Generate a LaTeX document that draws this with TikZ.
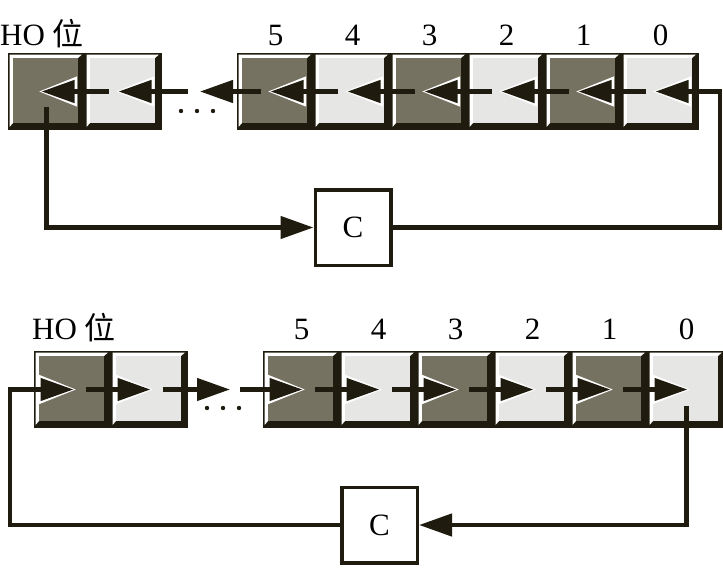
\documentclass[tikz,border=0pt]{standalone}
\usepackage{fontspec}
\setmainfont{Liberation Serif}
\newfontfamily\cjk{Noto Sans CJK SC}
\usetikzlibrary{arrows.meta,positioning}

\definecolor{darkface}{HTML}{767261}
\definecolor{lightface}{HTML}{E6E6E4}
\definecolor{edgec}{HTML}{1F1C0F}

\newcommand{\bigtext}{\fontsize{31}{37}\selectfont}

% one register cell: name, left x, top y, face colour
\newcommand{\regcell}[4]{%
  \fill[edgec] (#2,#3) rectangle ++(77,77);
  \fill[white] (#2+1.5,#3+1.5) -- (#2+74,#3+1.5) -- (#2+70,#3+5) -- (#2+5,#3+5) -- (#2+5,#3+70) -- (#2+1.5,#3+74) -- cycle;
  \fill[#4] (#2+5,#3+5) rectangle (#2+70,#3+70);
  \coordinate (#1) at (#2+38.5,#3+38.5);
}

\tikzset{
  bitarrow/.style={line width=4.5pt, draw=edgec, -{Triangle[length=33pt,width=22pt]},
    preaction={draw=white, line width=4.5pt, shorten >=-2.5pt, -{Triangle[length=38pt,width=29pt]}}},
  loopline/.style={line width=4.5pt, draw=edgec},
  looparrow/.style={loopline, -{Triangle[length=33pt,width=22pt]}},
  cbox/.style={draw=edgec, line width=3.5pt, minimum width=75.5pt, minimum height=75.5pt, inner sep=0pt, font=\bigtext},
  lbl/.style={font=\bigtext, inner sep=0pt},
}

\begin{document}
\begin{tikzpicture}[x=1pt,y=-1pt]
  \useasboundingbox (0,0) rectangle (723,568);

  % Draw top register (shift left)
  \regcell{hoA}{8}{53}{darkface}
  \regcell{nA}{85}{53}{lightface}
  \foreach \n/\x/\c in {5/237/darkface,4/314/lightface,3/391/darkface,2/468/lightface,1/545/darkface,0/622/lightface}
    \regcell{cA\n}{\x}{53}{\c};
  \coordinate (gapA) at (200,91.5);
  \coordinate (loopA) at (720,91.5);
  \foreach \dx in {-16,0,16}
    \fill[edgec] (197+\dx,111) circle (2.2pt);

  % Labels
  \node[lbl, anchor=base west] (hoLblA) at (0,45) {HO {\cjk 位}};
  \foreach \n in {5,4,3,2,1,0}
    \node[lbl, anchor=base] (lA\n) at ([yshift=46.5pt]cA\n) {\n};

  % Carry box
  \node[cbox] (boxA) at (353,227.5) {C};

  % Shift arrows
  \draw[bitarrow] (boxA.east) -| (loopA) -- ([xshift=-5pt]cA0);
  \foreach \a/\b in {0/1,1/2,2/3,3/4,4/5}
    \draw[bitarrow] ([xshift=-15pt]cA\a) -- ([xshift=-5pt]cA\b);
  \draw[bitarrow] ([xshift=-15pt]cA5) -- (gapA);
  \draw[bitarrow] ([xshift=-12pt]gapA) -- ([xshift=-5pt]nA);
  \draw[bitarrow] ([xshift=-15pt]nA) -- ([xshift=-5pt]hoA);
  \draw[looparrow] ([yshift=-15pt]hoA) |- (boxA.west);

  % Draw bottom register (shift right)
  \regcell{hoB}{34}{351}{darkface}
  \regcell{nB}{111}{351}{lightface}
  \foreach \n/\x/\c in {5/263/darkface,4/340/lightface,3/417/darkface,2/494/lightface,1/571/darkface,0/648/lightface}
    \regcell{cB\n}{\x}{351}{\c};
  \coordinate (gapB) at (230,389.5);
  \coordinate (loopB) at (10,389.5);
  \foreach \dx in {-16,0,16}
    \fill[edgec] (223+\dx,408) circle (2.2pt);

  % Labels
  \node[lbl, anchor=base west] (hoLblB) at (32,339) {HO {\cjk 位}};
  \foreach \n in {5,4,3,2,1,0}
    \node[lbl, anchor=base] (lB\n) at ([yshift=50.5pt]cB\n) {\n};

  % Carry box
  \node[cbox] (boxB) at (379.5,525) {C};

  % Shift arrows
  \draw[bitarrow] (boxB.west) -| (loopB) -- ([xshift=1pt]hoB);
  \draw[bitarrow] ([xshift=13pt]hoB) -- ([xshift=1pt]nB);
  \draw[bitarrow] ([xshift=13pt]nB) -- (gapB);
  \draw[bitarrow] ([xshift=10pt]gapB) -- ([xshift=1pt]cB5);
  \foreach \a/\b in {5/4,4/3,3/2,2/1,1/0}
    \draw[bitarrow] ([xshift=13pt]cB\a) -- ([xshift=1pt]cB\b);
  \draw[looparrow] ([yshift=-16pt]cB0) |- (boxB.east);

\end{tikzpicture}
\end{document}
